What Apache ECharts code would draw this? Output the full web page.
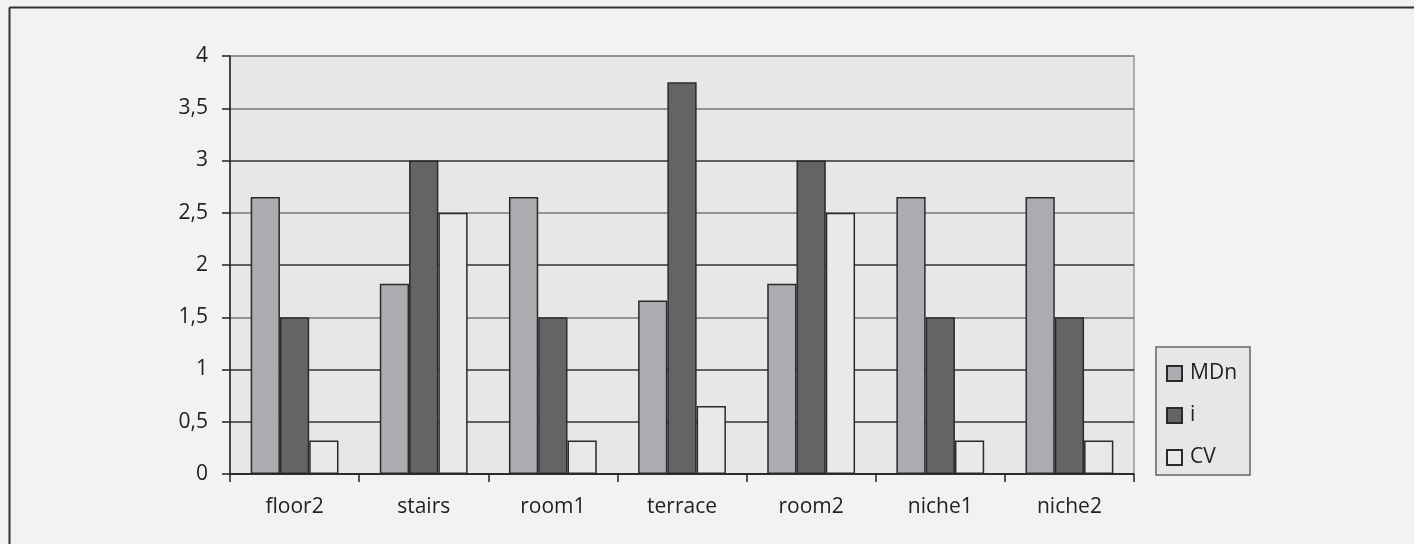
<!DOCTYPE html>
<html>
<head>
<meta charset="utf-8">
<script src="https://cdn.jsdelivr.net/npm/echarts@6/dist/echarts.min.js"></script>
<style>
  html, body { margin: 0; padding: 0; background: #f2f2f2; }
  #chart { width: 1414px; height: 544px; }
</style>
</head>
<body>
<div id="chart"></div>
<script>
// Categories and series values
const categories = ['floor2', 'stairs', 'room1', 'terrace', 'room2', 'niche1', 'niche2'];
const seriesNames = ['MDn', 'i', 'CV'];
const mdnValues = [2.65, 1.82, 2.65, 1.66, 1.82, 2.65, 2.65];
const iValues = [1.5, 3, 1.5, 3.75, 3, 1.5, 1.5];
const cvValues = [0.32, 2.5, 0.32, 0.65, 2.5, 0.32, 0.32];
const yTicks = [0, 0.5, 1, 1.5, 2, 2.5, 3, 3.5, 4];

const fillColors = ['#abacaf', '#636466', '#e8e9eb'];
const font = '"Open Sans", "DejaVu Sans", sans-serif';

const chart = echarts.init(document.getElementById('chart'), null, { renderer: 'canvas' });

const valueSets = [mdnValues, iValues, cvValues];
const series = seriesNames.map((name, k) => ({
  name: name,
  type: 'bar',
  data: valueSets[k],
  barGap: '0%',
  barCategoryGap: '32%',
  itemStyle: { color: fillColors[k], borderColor: '#2a2a2a', borderWidth: 1.5 },
  emphasis: { disabled: true }
}));

chart.setOption({
  backgroundColor: '#f2f2f2',
  animation: false,
  graphic: [
    { type: 'line', shape: { x1: 9.5, y1: 7.5, x2: 1414, y2: 7.5 }, style: { stroke: '#333', lineWidth: 2 } },
    { type: 'line', shape: { x1: 9.5, y1: 7.5, x2: 9.5, y2: 544 }, style: { stroke: '#333', lineWidth: 2 } }
  ],
  grid: {
    left: 230, right: 280, top: 56, bottom: 70,
    show: true, backgroundColor: '#e6e7e6', borderColor: '#999', borderWidth: 1.5
  },
  legend: {
    orient: 'vertical',
    left: 1156, top: 347,
    data: seriesNames,
    icon: 'rect',
    itemWidth: 15, itemHeight: 15,
    itemGap: 21,
    padding: [16, 13, 7, 10],
    backgroundColor: '#e6e7e6',
    borderColor: '#666', borderWidth: 1.5,
    textStyle: { fontFamily: font, fontSize: 21, color: '#222', padding: [0, 0, 0, 3] }
  },
  xAxis: {
    type: 'category',
    data: categories,
    axisLine: { lineStyle: { color: '#222', width: 1.5 } },
    axisTick: { show: true, length: 8, lineStyle: { color: '#222', width: 1.5 } },
    axisLabel: { margin: 23, fontFamily: font, fontSize: 21, color: '#222' }
  },
  yAxis: {
    type: 'value',
    min: 0, max: 4, interval: 0.5,
    axisLine: { show: true, lineStyle: { color: '#222', width: 1.5 } },
    axisTick: { show: true, length: 8, lineStyle: { color: '#222', width: 1.5 } },
    axisLabel: {
      margin: 22, fontFamily: font, fontSize: 21, color: '#222',
      formatter: v => (yTicks.includes(v) ? String(v).replace('.', ',') : '')
    },
    splitLine: {
      show: true,
      lineStyle: { color: ['#333', '#333', '#333', '#777', '#333', '#777', '#333', '#777', '#888'], width: 1.5 }
    }
  },
  series: series
});
</script>
</body>
</html>
